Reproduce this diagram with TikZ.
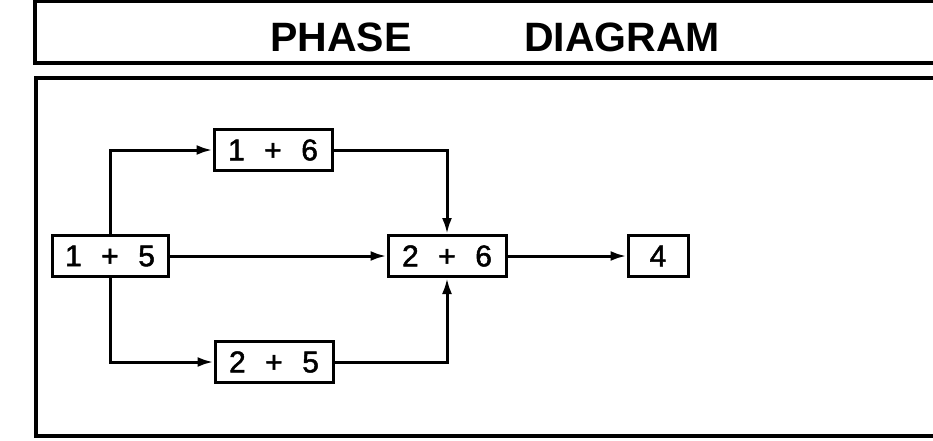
\documentclass[tikz,border=0pt]{standalone}
\usepackage{fontspec}
\setmainfont{Liberation Sans}
\newfontfamily\boxfont[FakeBold=1.6]{Liberation Sans}
\usepackage{tikz}
\usetikzlibrary{positioning,arrows.meta}

\tikzset{
    phase/.style={draw, line width=3pt, inner sep=0pt, minimum height=41pt,
        font=\boxfont\fontsize{30}{30}\selectfont},
    flow/.style={line width=3pt, -{Latex[length=16pt,width=10pt]}},
    frame/.style={line width=3.2pt},
    title/.style={font=\fontsize{41}{41}\selectfont\bfseries}
}
\newcommand{\gap}{\hspace{0.65em}}

\begin{document}
\begin{tikzpicture}[x=1pt, y=-1pt]
        \clip (0,0) rectangle (933,440);

        % title strip
        \draw[frame] (945,1) -- (35,1) -- (35,63) -- (945,63);
        \node[title] (ttlA) at (341,37) {PHASE};
        \node[title] (ttlB) at (622,37) {DIAGRAM};

        % diagram panel
        \draw[frame] (945,78) -- (36,78) -- (36,436) -- (945,436);

        % phases
        \node[phase, minimum width=116pt] (p15) at (110,256) {1\gap+\gap5};
        \node[phase, minimum width=118pt] (p16) at (273,150) {1\gap+\gap6};
        \node[phase, minimum width=118pt] (p25) at (274,362) {2\gap+\gap5};
        \node[phase, minimum width=118pt] (p26) at (447,256) {2\gap+\gap6};
        \node[phase, minimum width=60pt] (p4) at (658,256) {4};

        % transitions
        \draw[flow] (p15.north) |- (p16.west);
        \draw[flow] (p15.south) |- (p25.west);
        \draw[flow] (p15) -- (p26);
        \draw[flow] (p16.east) -| (p26.north);
        \draw[flow] (p25.east) -| (p26.south);
        \draw[flow] (p26) -- (p4);
    \end{tikzpicture}
\end{document}
